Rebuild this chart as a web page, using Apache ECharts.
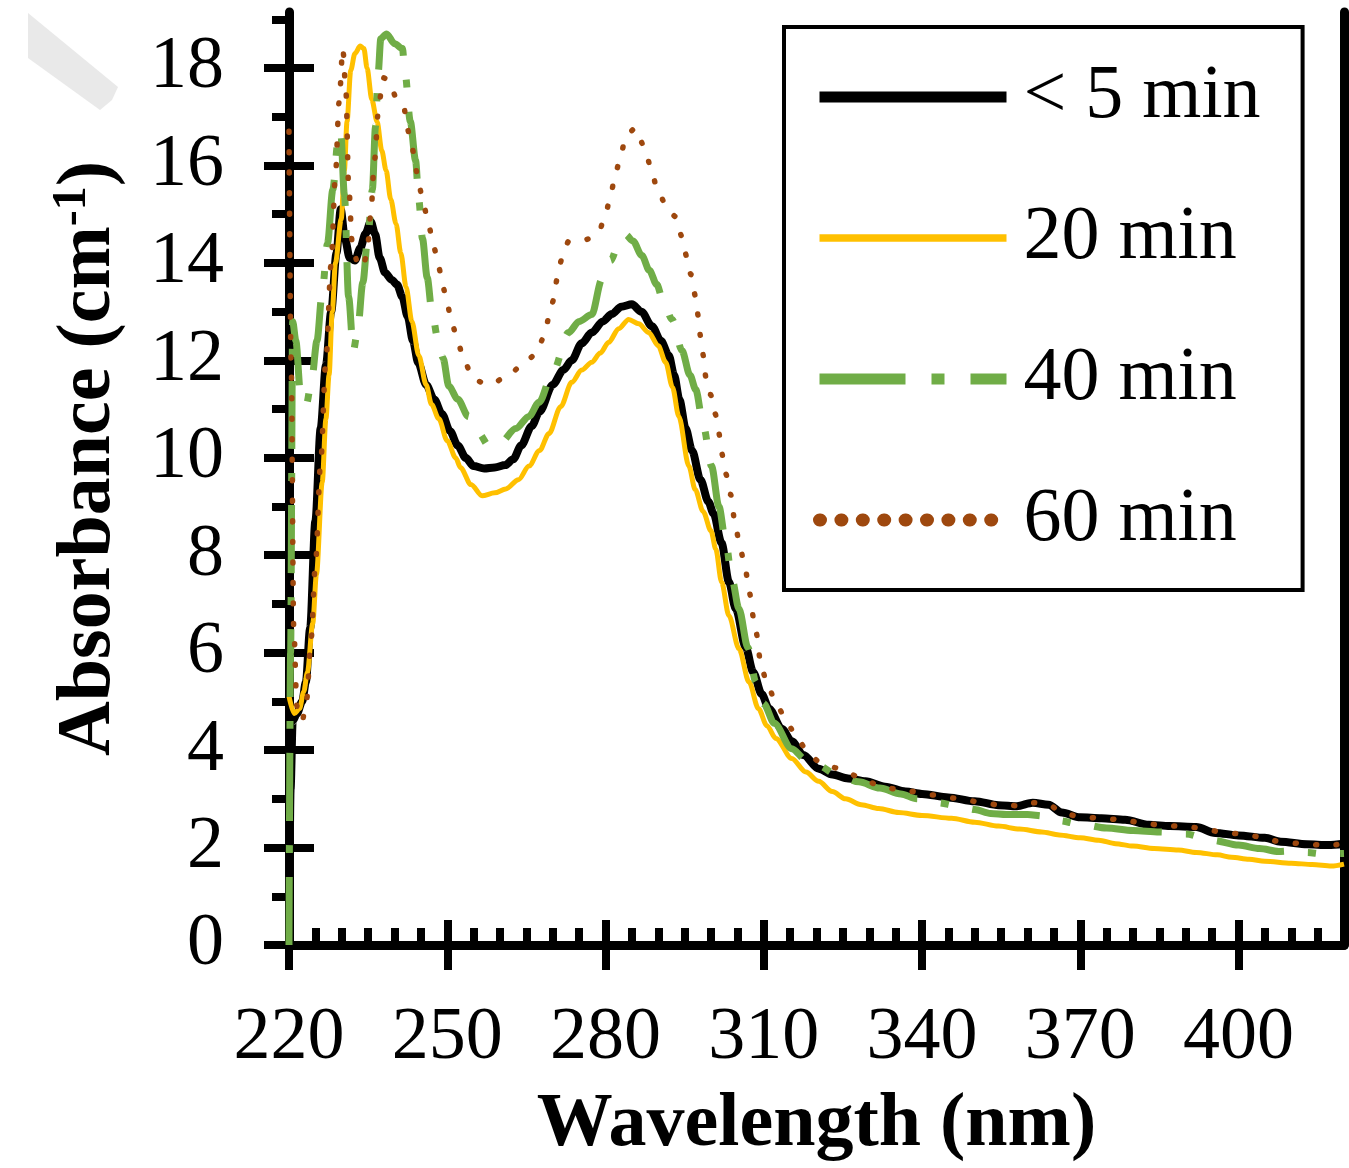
<!DOCTYPE html>
<html>
<head>
<meta charset="utf-8">
<script src="https://cdn.jsdelivr.net/npm/echarts@6.0.0/dist/echarts.min.js"></script>
<style>
  html, body { margin: 0; padding: 0; background: #ffffff; }
  #chart { width: 1349px; height: 1168px; }
</style>
</head>
<body>
<div id="chart"></div>
<script>
// ---------------- data ----------------
const seriesNames = ['< 5 min', '20 min', '40 min', '60 min'];

const xMajorTicks = [220, 250, 280, 310, 340, 370, 400];
const yMajorTicks = [0, 2, 4, 6, 8, 10, 12, 14, 16, 18];
const yMinorTicks = [1, 3, 5, 7, 9, 11, 13, 15, 17, 19];

// [wavelength (nm), absorbance (cm-1)]
const min5 = [
  [220,0],[220.3,3.2],[220.7,4.6],[221.5,4.75],[222.5,5.0],[223.2,5.4],[224,6.5],[225,8.7],
  [226,10.6],[227,11.9],[228,13.0],[229,14.2],[229.8,15.1],[230.6,14.5],[231.5,14.1],[232.5,14.05],
  [233.5,14.3],[234.5,14.6],[235.5,14.85],[236.3,14.6],[237.2,14.1],[238.2,13.8],[239.5,13.65],
  [240.5,13.55],[241.5,13.3],[242.5,12.9],[243.5,12.4],[244.5,11.95],[246,11.5],[247.5,11.2],
  [249,10.9],[250.5,10.55],[252,10.25],[253.5,10.0],[255,9.83],[257,9.78],[259,9.8],[261,9.85],
  [262.5,9.97],[264,10.25],[266,10.65],[267.5,10.95],[270,11.5],[272,11.8],[273.6,12.0],
  [275.5,12.35],[277.4,12.57],[279.5,12.8],[281.2,12.95],[283,13.1],[285,13.15],[286.8,13.0],
  [288.8,12.7],[290.5,12.4],[292,12.1],[293,11.7],[294,11.2],[295.2,10.6],[296.4,10.15],
  [298,9.55],[299.5,9.1],[300.5,8.85],[302,8.25],[303.4,7.45],[304.7,6.9],[306.6,6.1],[308,5.6],
  [309.6,5.15],[311,4.85],[313.4,4.44],[315.3,4.18],[317.5,3.9],[320.4,3.62],[323,3.5],
  [326,3.42],[329.3,3.36],[333,3.25],[336.9,3.15],[340,3.1],[345,3.03],[350,2.95],[354.5,2.87],
  [358,2.85],[361,2.92],[364,2.88],[366.5,2.72],[370,2.62],[374,2.6],[378.5,2.57],[383,2.47],
  [387,2.44],[392,2.42],[395.6,2.3],[400,2.25],[405,2.2],[408,2.12],[413,2.07],[417,2.05],[420,2.08]
];

const min20 = [
  [220,5.1],[221,4.75],[222,4.85],[222.8,5.2],[223.5,5.6],[224.5,6.6],[225.2,7.6],[226.3,9.5],
  [227,10.8],[227.6,11.7],[228.2,13.0],[228.8,14.0],[229.9,14.9],[230.5,15.9],[231,16.9],
  [231.7,17.95],[232.5,18.3],[233.5,18.45],[234.2,18.4],[234.8,18.0],[235.7,17.35],[236.7,16.9],
  [237.6,16.3],[238.4,15.9],[239.3,15.3],[240.3,14.8],[241.2,14.2],[242.2,13.5],[243.3,12.8],
  [244.6,12.1],[246,11.5],[247,11.1],[248.4,10.8],[250,10.35],[251.6,10.0],[252.5,9.8],
  [254.5,9.45],[256.6,9.22],[259,9.28],[261.1,9.36],[263.5,9.55],[265.5,9.83],[267.5,10.15],
  [269.3,10.5],[271.5,11.05],[273.6,11.55],[275.5,11.8],[277.4,11.96],[279,12.15],[280.6,12.37],
  [282.5,12.65],[284.4,12.84],[286.3,12.75],[288.2,12.57],[290,12.3],[291.4,11.96],[292.7,11.45],
  [293.9,10.85],[295.8,9.83],[297,9.35],[298.5,8.9],[300,8.5],[300.9,8.13],[302,7.45],
  [303.4,6.76],[305.3,6.08],[307.2,5.4],[309,4.85],[310.6,4.5],[312.3,4.24],[315.3,3.83],
  [318,3.55],[320.4,3.36],[323,3.15],[325.5,3.0],[328.5,2.88],[331.8,2.8],[335.6,2.72],[340,2.66],
  [345.6,2.6],[350,2.52],[354.5,2.44],[358.5,2.38],[362.7,2.32],[366,2.26],[370,2.2],[373.5,2.15],
  [376.7,2.08],[380,2.03],[384,1.98],[388.6,1.95],[392,1.9],[396,1.85],[398.7,1.8],[402,1.76],
  [405,1.72],[410,1.68],[414,1.65],[417.6,1.62],[420,1.66]
];

const min40 = [
  [220,0],[220.3,6],[220.7,12.8],[221.3,12.4],[222.2,11.3],[223.3,11.1],[224.3,11.6],[225.3,12.4],
  [226.3,13.4],[227.3,14.4],[228.3,15.5],[229.3,16.5],[229.8,16.7],[230.5,15.4],[231.3,13.3],
  [232.2,12.2],[233,12.6],[234,13.6],[235,14.6],[235.8,15.5],[236.4,16.8],[236.9,17.9],[237.4,18.6],
  [238.5,18.7],[240,18.5],[241.5,18.4],[242,17.9],[243,16.9],[244,16.1],[244.6,15.3],[245.3,14.5],
  [246.2,13.7],[247.1,13.0],[248.2,12.45],[249.2,12.05],[250.3,11.47],[252,11.2],[254,10.85],
  [256,10.5],[257.9,10.24],[260,10.3],[263,10.6],[265.5,10.85],[267.4,11.14],[270,11.75],
  [273,12.57],[275,12.8],[277.4,12.94],[279.3,13.66],[281,14.05],[282.5,14.4],[283.8,14.58],
  [285.2,14.45],[286.9,14.15],[288.3,13.85],[289.7,13.56],[291,13.2],[292.6,12.84],[294.5,12.2],
  [296,11.7],[297.1,11.4],[298.6,10.63],[300.1,9.83],[301.5,9.0],[302.8,8.27],[304,7.5],
  [305.3,6.9],[307,6.1],[308.5,5.4],[310,4.95],[312,4.55],[315.3,4.03],[318,3.8],[320,3.7],
  [324.2,3.48],[328,3.35],[332,3.22],[336,3.1],[339,3.0],[343,2.92],[347,2.85],[350,2.78],
  [353,2.7],[356,2.68],[360,2.68],[363,2.65],[366,2.55],[370,2.48],[375,2.4],[380,2.35],
  [385,2.32],[390,2.28],[395,2.15],[400,2.05],[404,1.98],[407.6,1.92],[410,1.93],[413,1.9],
  [416,1.87],[420,1.88]
];

const min60 = [
  [220,16.7],[220.4,12],[220.9,6.5],[221.5,4.9],[222.5,4.6],[223.3,5.0],[224.2,6.3],[225,7.8],
  [226,9.9],[227,12.0],[228,14.0],[228.8,15.8],[229.5,17.3],[230.2,18.4],[230.8,17.5],[231.3,15.6],
  [232,14.4],[233,14.0],[234,13.9],[234.8,14.2],[235.5,15.0],[236.2,16.1],[237,17.2],[237.8,17.8],
  [239,17.75],[240.3,17.4],[241.8,17.2],[242.3,16.8],[243.3,16.4],[244,15.95],[244.6,15.6],
  [245.6,15.15],[246.5,14.75],[247.5,14.3],[248.4,13.9],[249.2,13.5],[250,13.15],[250.9,12.74],
  [252.2,12.3],[253.2,11.98],[255,11.6],[257.9,11.5],[261.2,11.65],[264,11.88],[266.8,12.12],
  [268.3,12.47],[269.3,12.88],[270.2,13.25],[270.8,13.66],[271.7,14.07],[273,14.44],[276.3,14.48],
  [278.7,14.62],[280,15.0],[281,15.4],[281.8,15.8],[282.9,16.2],[283.8,16.6],[285.7,16.77],
  [287.3,16.4],[288.6,15.97],[289.7,15.56],[291.4,15.2],[293.3,14.95],[294.5,14.54],[295.4,14.13],
  [296.2,13.76],[297.1,13.3],[297.6,12.9],[298,12.5],[298.6,12.08],[299,11.67],[299.9,11.3],
  [300.8,10.9],[301.5,10.5],[302,10.1],[302.8,9.67],[303.7,9.25],[304.7,8.55],[305.6,8.1],
  [306.6,7.66],[307.2,7.25],[308.5,6.43],[309.6,5.67],[310.9,5.26],[312.8,4.85],[314.7,4.5],
  [316.6,4.18],[318.5,3.95],[320.4,3.77],[323,3.65],[325.5,3.56],[328.5,3.42],[331.8,3.28],
  [335,3.2],[338,3.15],[342,3.08],[347.5,3.0],[351,2.93],[355,2.87],[358,2.86],[361,2.92],
  [364,2.88],[366.5,2.72],[370,2.63],[374,2.6],[378,2.57],[382,2.5],[386,2.45],[390,2.43],
  [394,2.38],[397,2.3],[401,2.28],[404,2.22],[408,2.12],[412,2.08],[416,2.05],[418.5,2.06],[420,2.12]
];

// ---------------- styling ----------------
const FONT = "'Liberation Serif', 'Times New Roman', serif";
const BLACK = '#000000';
const ORANGE = '#FFC000';
const GREEN = '#70AD47';
const BROWN = '#9E480E';
const AXIS_W = 9, TICK_W = 8, MAJOR_LEN = 25, MINOR_LEN = 17;

const X_MIN = 220, X_MAX = 420, Y_MIN = 0, Y_MAX = 19.15;

const chart = echarts.init(document.getElementById('chart'), null, { renderer: 'canvas' });

const hiddenLabel = { show: false };
const noSymbol = { opacity: 0, borderWidth: 0 };
const option = {
  animation: false,
  backgroundColor: '#ffffff',
  grid: { left: 289, right: 5, top: 12, bottom: 221, containLabel: false },
  graphic: [{
    type: 'polygon',
    shape: { points: [[28, 13], [118, 87], [112, 100], [100, 110], [28, 58]] },
    style: { fill: '#e9e9e9' },
    z: -1
  }],
  legend: {
    left: 784, top: 27,
    orient: 'vertical',
    backgroundColor: '#ffffff',
    borderColor: '#000000',
    borderWidth: 4,
    padding: [30, 42, 30, 29],
    itemGap: 61,
    itemWidth: 187,
    itemHeight: 14,
    selectedMode: false,
    itemStyle: noSymbol,
    textStyle: { fontFamily: FONT, fontSize: 76, color: '#000', lineHeight: 80, padding: [0, 0, 0, 12] },
    data: [
      { name: seriesNames[0], itemStyle: noSymbol, lineStyle: { width: 11, type: 'solid' } },
      { name: seriesNames[1], itemStyle: noSymbol, lineStyle: { width: 7.5, type: 'solid' } },
      { name: seriesNames[2], itemStyle: noSymbol, lineStyle: { width: 11, type: [86, 26, 13, 26], cap: 'butt' } },
      { name: seriesNames[3], itemStyle: noSymbol, lineStyle: { width: 13, type: [1, 20.4], cap: 'round' } }
    ]
  },
  xAxis: [
    {
      type: 'value', min: X_MIN, max: X_MAX, position: 'bottom',
      axisLine: { show: true, onZero: false, lineStyle: { color: BLACK, width: AXIS_W } },
      axisTick: { show: true, inside: false, length: MAJOR_LEN, customValues: xMajorTicks, lineStyle: { color: BLACK, width: TICK_W } },
      axisLabel: { show: true, customValues: xMajorTicks, margin: 57, fontFamily: FONT, fontSize: 74, color: '#000' },
      splitLine: { show: false },
      name: 'Wavelength (nm)', nameLocation: 'middle', nameGap: 142,
      nameTextStyle: { fontFamily: FONT, fontSize: 76, fontWeight: 'bold', color: '#000' }
    },
    {
      type: 'value', min: X_MIN, max: X_MAX, position: 'bottom',
      axisLine: { show: false, onZero: false },
      axisTick: { show: true, inside: true, length: MAJOR_LEN, customValues: xMajorTicks, lineStyle: { color: BLACK, width: TICK_W } },
      axisLabel: { show: false, customValues: xMajorTicks },
      splitLine: { show: false }
    },
    {
      type: 'value', min: X_MIN, max: X_MAX, interval: 5, position: 'bottom',
      axisLine: { show: false, onZero: false },
      axisTick: { show: true, inside: true, length: MINOR_LEN, lineStyle: { color: BLACK, width: TICK_W } },
      axisLabel: hiddenLabel,
      splitLine: { show: false }
    }
  ],
  yAxis: [
    {
      type: 'value', min: Y_MIN, max: Y_MAX, position: 'left',
      axisLine: { show: true, onZero: false, lineStyle: { color: BLACK, width: AXIS_W } },
      axisTick: { show: true, inside: false, length: MAJOR_LEN, customValues: yMajorTicks, lineStyle: { color: BLACK, width: TICK_W } },
      axisLabel: { show: true, customValues: yMajorTicks, margin: 65, fontFamily: FONT, fontSize: 74, color: '#000' },
      splitLine: { show: false },
      name: 'Absorbance (cm{sup|-1})', nameLocation: 'middle', nameGap: 160,
      nameTextStyle: {
        fontFamily: FONT, fontSize: 76, fontWeight: 'bold', color: '#000', lineHeight: 80,
        padding: [0, 0, 0, 40],
        rich: { sup: { fontFamily: FONT, fontSize: 48, fontWeight: 'bold', color: '#000', verticalAlign: 'top', lineHeight: 50 } }
      }
    },
    {
      type: 'value', min: Y_MIN, max: Y_MAX, position: 'left',
      axisLine: { show: false, onZero: false },
      axisTick: { show: true, inside: true, length: MAJOR_LEN, customValues: yMajorTicks, lineStyle: { color: BLACK, width: TICK_W } },
      axisLabel: { show: false, customValues: yMajorTicks },
      splitLine: { show: false }
    },
    {
      type: 'value', min: Y_MIN, max: Y_MAX, position: 'left',
      axisLine: { show: false, onZero: false },
      axisTick: { show: true, inside: false, length: MINOR_LEN, customValues: yMinorTicks, lineStyle: { color: BLACK, width: TICK_W } },
      axisLabel: { show: false, customValues: yMinorTicks },
      splitLine: { show: false }
    },
    {
      type: 'value', min: Y_MIN, max: Y_MAX, position: 'right',
      axisLine: { show: true, onZero: false, lineStyle: { color: BLACK, width: AXIS_W } },
      axisTick: { show: false },
      axisLabel: hiddenLabel,
      splitLine: { show: false }
    }
  ],
  series: [
    {
      name: seriesNames[0], type: 'line', data: min5, symbol: 'none', clip: false,
      smooth: 0.3, smoothMonotone: 'x',
      lineStyle: { color: BLACK, width: 8, type: 'solid' }, itemStyle: { color: BLACK }
    },
    {
      name: seriesNames[1], type: 'line', data: min20, symbol: 'none', clip: false,
      smooth: 0.3, smoothMonotone: 'x',
      lineStyle: { color: ORANGE, width: 5, type: 'solid' }, itemStyle: { color: ORANGE }
    },
    {
      name: seriesNames[2], type: 'line', data: min40, symbol: 'none', clip: false,
      smooth: 0.3, smoothMonotone: 'x',
      lineStyle: { color: GREEN, width: 7, type: [68, 24, 8, 24], cap: 'butt' }, itemStyle: { color: GREEN }
    },
    {
      name: seriesNames[3], type: 'line', data: min60, symbol: 'none', clip: false,
      smooth: 0.3, smoothMonotone: 'x',
      lineStyle: { color: BROWN, width: 5.5, type: [1, 19.5], cap: 'round' }, itemStyle: { color: BROWN }
    }
  ]
};
chart.setOption(option);
</script>
</body>
</html>
